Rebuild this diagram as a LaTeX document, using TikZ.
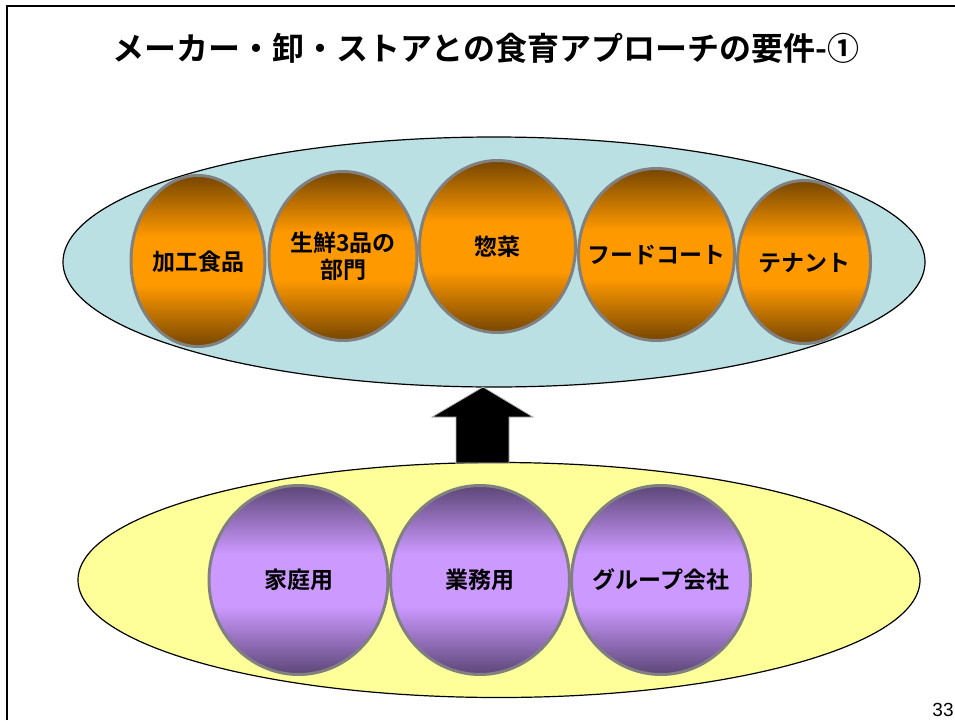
\documentclass[tikz,border=0pt]{standalone}
\usepackage{fontspec}
\setmainfont{Noto Sans CJK JP}[BoldFont={Noto Sans CJK JP Bold}]
\newfontfamily\latinsans{Liberation Sans}
\usetikzlibrary{shapes.geometric}
\definecolor{odark}{HTML}{764600}
\definecolor{obright}{HTML}{FF9900}
\definecolor{pdark}{HTML}{5C4677}
\definecolor{pbright}{HTML}{CC99FF}
\definecolor{skyfill}{HTML}{BBE0E3}
\definecolor{yelfill}{HTML}{FFFF99}
\definecolor{rim}{HTML}{808080}
\pgfdeclareverticalshading{orangeball}{100bp}{color(0bp)=(odark); color(25bp)=(odark); color(43bp)=(obright); color(57bp)=(obright); color(75bp)=(odark); color(100bp)=(odark)}
\pgfdeclareverticalshading{purpleball}{100bp}{color(0bp)=(pdark); color(25bp)=(pdark); color(43bp)=(pbright); color(57bp)=(pbright); color(75bp)=(pdark); color(100bp)=(pdark)}
\tikzset{
  bigoval/.style={ellipse, draw=black, line width=1.2pt, inner sep=0pt, outer sep=0pt},
  ballbase/.style={ellipse, draw=rim, line width=3pt, inner sep=0pt, outer sep=0pt},
  oball/.style={ballbase, shade, shading=orangeball},
  pball/.style={ballbase, shade, shading=purpleball},
  balltext/.style={inner sep=0pt, align=center, font=\bfseries\fontsize{23}{27}\selectfont},
}
\begin{document}
\begin{tikzpicture}[x=1pt,y=-1pt]
\useasboundingbox (0,0) rectangle (955,720);
\draw[line width=2pt] (7,720) -- (7,6) -- (955,6);
\node[font=\bfseries\fontsize{32}{38}\selectfont] (title) at (486,48) {メーカー・卸・ストアとの食育アプローチの要件-①};
% outer ovals
\node[bigoval, fill=skyfill, minimum width=862pt, minimum height=250pt] (upper) at (494,262) {};
\node[bigoval, fill=yelfill, minimum width=842pt, minimum height=235pt] (lower) at (499,580) {};
% block arrow
\coordinate (tip) at (483,387);
\coordinate (base) at (483,463);
\draw[fill=black, draw=rim!60, line width=0.8pt]
  (tip) -- ([xshift=50pt,yshift=-30pt]tip) -- ([xshift=26pt,yshift=-30pt]tip)
  -- ([xshift=26pt]base) -- ([xshift=-27pt]base) -- ([xshift=-27pt,yshift=-30pt]tip)
  -- ([xshift=-51pt,yshift=-30pt]tip) -- cycle;
% orange balls
\node[oball, minimum width=134pt, minimum height=171pt] (b1) at (198,261) {};
\node[oball, minimum width=148pt, minimum height=169pt] (b2) at (343,256) {};
\node[oball, minimum width=156pt, minimum height=172pt] (b3) at (497.5,246.5) {};
\node[oball, minimum width=156pt, minimum height=172pt] (b4) at (656.5,254.5) {};
\node[oball, minimum width=133pt, minimum height=163pt] (b5) at (804,262) {};
\node[balltext] (t1) at ([yshift=-1pt]b1.center) {加工食品};
\node[balltext] (t2) at (b2.center) {生鮮3品の\\部門};
\node[balltext] (t3) at (b3.center) {惣菜};
\node[balltext] (t4) at (b4.center) {フードコート};
\node[balltext] (t5) at ([yshift=-1pt]b5.center) {テナント};
% purple balls
\node[pball, minimum width=179pt, minimum height=189pt] (p1) at (298.5,580) {};
\node[pball, minimum width=179pt, minimum height=189pt] (p2) at (480,580) {};
\node[pball, minimum width=179pt, minimum height=189pt] (p3) at (661,580) {};
\node[balltext] (u1) at (p1.center) {家庭用};
\node[balltext] (u2) at (p2.center) {業務用};
\node[balltext] (u3) at (p3.center) {グループ会社};
\node[font=\latinsans\fontsize{19}{22}\selectfont] (pnum) at (943,710) {33};
\end{tikzpicture}
\end{document}
